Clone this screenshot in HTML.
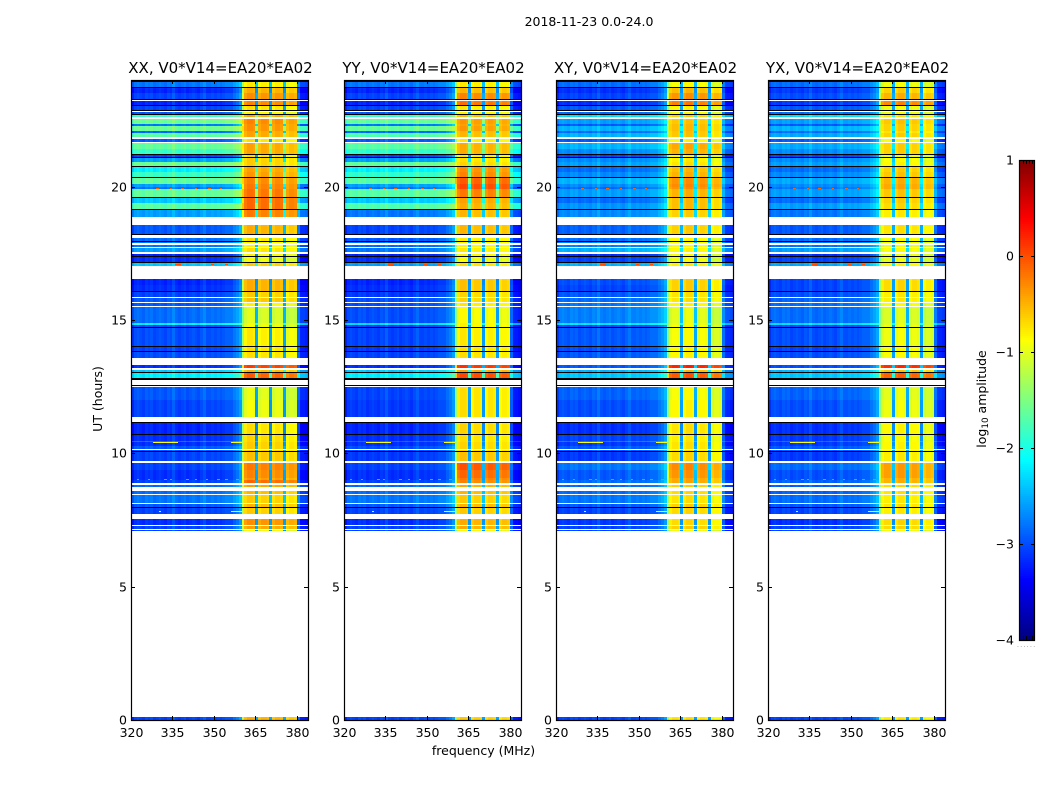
<!DOCTYPE html>
<html>
<head>
<meta charset="utf-8">
<title>2018-11-23 0.0-24.0</title>
<style>
html,body{margin:0;padding:0;background:#fff;}
svg{display:block;}
text{font-family:"DejaVu Sans","Liberation Sans",sans-serif;fill:#000;}
</style>
</head>
<body>
<svg id="figure" xmlns="http://www.w3.org/2000/svg" width="1050" height="800" viewBox="0 0 1050 800">
  <text x="589" y="26" font-size="12.5" text-anchor="middle">2018-11-23 0.0-24.0</text>
  <text x="483.5" y="755" font-size="12.5" text-anchor="middle">frequency (MHz)</text>
  <text x="0" y="0" font-size="12.5" text-anchor="middle" transform="translate(102,399) rotate(-90)">UT (hours)</text>
  <text x="0" y="0" font-size="12.5" text-anchor="middle" transform="translate(986,399) rotate(-90)">log<tspan font-size="8.8" dy="2">10</tspan><tspan dy="-2"> amplitude</tspan></text>
  <g id="panels"></g>
  <g id="colorbar"></g>
</svg>
<script>
/* ---------- data ---------- */
const panelTitles = ["XX, V0*V14=EA20*EA02","YY, V0*V14=EA20*EA02","XY, V0*V14=EA20*EA02","YX, V0*V14=EA20*EA02"];
const xTicks = [320,335,350,365,380];
const yTicks = [0,5,10,15,20];
const colorbarTicks = [1,0,-1,-2,-3,-4];

/* time rows that hold data, UT hours (top and bottom of each row) */
const rowStart = [
23.91,23.70,23.51,23.23,23.03,22.80,22.71,22.54,22.35,22.28,
22.09,22.01,21.79,21.64,21.41,21.19,21.09,20.91,20.72,20.55,
20.33,20.10,19.99,19.91,19.58,19.39,19.13,18.56,18.08,17.93,
17.83,17.71,17.48,17.36,17.16,16.54,16.31,16.05,15.81,15.64,
15.47,14.89,14.81,14.70,13.97,13.80,13.31,13.13,13.01,12.81,
12.49,12.00,11.12,10.71,10.46,10.41,10.26,10.14,10.05,9.64,
9.38,9.08,9.00,8.81,8.58,8.44,8.10,7.95,7.54,7.29,7.11,0.11];
const rowEnd = [
23.74,23.51,23.29,23.06,22.86,22.74,22.63,22.35,22.28,22.09,
22.01,21.86,21.68,21.41,21.23,21.13,20.94,20.76,20.55,20.36,
20.10,19.99,19.91,19.61,19.39,19.18,18.88,18.23,17.96,17.87,
17.75,17.55,17.40,17.19,17.04,16.31,16.09,15.88,15.69,15.53,
14.89,14.81,14.74,14.01,13.84,13.58,13.20,13.05,12.84,12.75,
12.00,11.37,10.74,10.46,10.41,10.29,10.18,10.05,9.71,9.38,
9.08,9.00,8.87,8.74,8.48,8.14,7.99,7.73,7.33,7.15,7.07,0];

/* log10 amplitude outside the band, per row */
const xxBackground = [
-2.8,-3.2,-3.05,-3.2,-3.05,-2.95,-1.85,-1.6,-2.8,-1.6,
-2.85,-1.7,-2.95,-1.65,-1.85,-3.05,-2.6,-1.6,-2.2,-1.85,
-1.65,-2.6,-2.8,-1.65,-2.4,-1.7,-2.6,-2.95,-2.85,-2.8,
-2.8,-2.6,-3.2,-3.15,-2.4,-3.2,-3.15,-3.05,-2.95,-2.95,
-2.85,-2.2,-3.05,-3.0,-3.05,-3.0,-3.15,-2.4,-2.2,-3.05,
-2.95,-3.05,-3.2,-3.15,-2.8,-3.15,-2.95,-2.95,-3.05,-3.05,
-3.15,-3.15,-3.05,-2.85,-2.85,-2.8,-2.95,-3.05,-3.15,-3.05,-3.05,-3.05];
const yyBackground = [
-2.8,-3.2,-3.05,-3.2,-3.05,-2.95,-1.85,-1.65,-2.8,-1.65,
-2.85,-1.75,-2.95,-1.7,-1.9,-3.05,-2.6,-1.65,-2.2,-1.9,
-1.7,-2.6,-2.8,-1.7,-2.4,-1.75,-2.8,-3.05,-2.95,-2.85,
-2.85,-2.8,-3.2,-3.15,-2.6,-3.2,-3.15,-3.1,-3.0,-3.0,
-3.0,-2.3,-3.1,-3.05,-3.1,-3.05,-3.15,-2.4,-2.2,-3.05,
-3.05,-3.1,-3.2,-3.15,-2.85,-3.15,-3.0,-3.0,-3.1,-3.05,
-3.15,-3.15,-3.05,-2.85,-2.85,-2.8,-2.95,-3.05,-3.15,-3.05,-3.05,-3.05];
const xyBackground = [
-2.85,-3.15,-3.05,-3.15,-2.95,-2.85,-2.3,-2.6,-2.95,-2.5,
-2.85,-2.5,-2.95,-2.5,-2.7,-3.05,-2.7,-2.6,-2.85,-2.7,
-2.5,-2.7,-2.85,-2.6,-2.85,-2.65,-2.7,-2.9,-2.85,-2.75,
-2.75,-2.5,-3.15,-3.05,-2.5,-3.0,-3.05,-2.95,-2.85,-2.8,
-2.75,-2.25,-3.05,-2.95,-3.0,-2.95,-2.95,-2.5,-2.4,-2.95,
-2.9,-3.0,-3.15,-3.05,-2.75,-3.1,-2.95,-2.95,-3.1,-2.8,
-2.95,-2.95,-2.85,-2.85,-2.85,-2.8,-2.95,-3.05,-3.1,-3.05,-3.05,-3.05];
const yxBackground = [
-2.85,-3.1,-3.0,-3.1,-2.95,-2.85,-2.3,-2.6,-2.95,-2.5,
-2.85,-2.55,-2.95,-2.55,-2.7,-3.05,-2.7,-2.6,-2.85,-2.7,
-2.55,-2.7,-2.8,-2.6,-2.85,-2.6,-2.8,-2.95,-2.85,-2.8,
-2.8,-2.6,-3.15,-3.05,-2.55,-3.05,-3.05,-3.0,-2.9,-2.85,
-2.85,-2.3,-3.05,-3.0,-3.05,-3.0,-3.0,-2.5,-2.4,-2.95,
-2.9,-3.0,-3.15,-3.1,-2.8,-3.1,-2.95,-2.95,-3.1,-2.85,
-3.0,-3.0,-2.9,-2.9,-2.9,-2.85,-2.95,-3.05,-3.15,-3.05,-3.05,-3.05];

/* log10 amplitude inside the 361-380 MHz band, per row */
const xxBand = [
-.85,-.55,-.4,-.35,-.8,-.9,-.5,-.35,-.4,-.4,
-.5,-.5,-.8,-.5,-.5,-.8,-.7,-.7,-.5,-.45,
-.35,-.3,-.3,-.25,-.2,-.2,-.3,-.55,-.8,-.9,
-.9,-.8,-.9,-1,-.7,-.55,-.55,-.7,-.65,-.9,
-1.1,-1,-1,-.85,-.8,-.8,0,-.6,-.15,-.6,
-1.05,-1,-.8,-.75,-.75,-.7,-.7,-.7,-.65,-.3,
-.35,-.45,-.2,-.5,-.6,-.7,-.6,-.7,-.4,-.5,-1,-.55];
const yyBand = [
-.85,-.6,-.35,-.25,-.85,-.9,-.6,-.45,-.5,-.45,
-.6,-.6,-.85,-.55,-.55,-.85,-.8,-.75,-.4,-.35,
-.15,-.05,-.05,-.3,-.5,-.55,-.6,-.6,-.85,-.9,
-.9,-.85,-.9,-1,-.8,-.65,-.65,-.75,-.75,-.85,
-.95,-.9,-.9,-.85,-.8,-.8,.05,-.5,-.05,-.55,
-.8,-.8,-.75,-.8,-.8,-.75,-.75,-.75,-.65,-.1,
-.2,-.3,-.35,-.55,-.6,-.7,-.6,-.7,-.55,-.55,-1,-.7];
const xyBand = [
-.95,-.6,-.4,-.3,-.9,-.95,-.7,-.65,-.6,-.6,
-.65,-.65,-.9,-.5,-.55,-.9,-.85,-.8,-.6,-.55,
-.4,-.35,-.4,-.55,-.6,-.6,-.7,-.7,-.9,-.95,
-.95,-.9,-.95,-1,-.85,-.7,-.7,-.8,-.8,-.9,
-1.05,-1,-.95,-.95,-.9,-.9,.15,-.6,-.1,-.7,
-.95,-.9,-.8,-.85,-.85,-.8,-.8,-.8,-.75,-.35,
-.4,-.5,-.5,-.7,-.75,-.8,-.7,-.75,-.75,-.7,-1,-.8];
const yxBand = [
-1,-.7,-.55,-.35,-1,-1,-.8,-.65,-.7,-.7,
-.8,-.7,-.95,-.7,-.7,-1,-.95,-.9,-.7,-.65,
-.55,-.5,-.5,-.65,-.7,-.75,-.85,-.8,-.95,-1,
-1,-.95,-1,-1.05,-.9,-.75,-.75,-.85,-.85,-.95,
-1.1,-1.05,-1,-1,-.95,-.95,.1,-.65,-.15,-.75,
-1.05,-1,-.9,-.95,-.95,-.9,-.9,-.9,-.85,-.45,
-.45,-.55,-.55,-.75,-.8,-.85,-.8,-.85,-.75,-.75,-1,-.85];

/* per-panel offset of each of the four sub-bands */
const xxSubBands = [0.05,0,0,-0.1];
const yySubBands = [0.05,0,0,-0.05];
const xySubBands = [0,0.05,0,-0.15];
const yxSubBands = [0,0.05,0,-0.1];

/* per-channel (1 MHz, 320-383) share of band signal, and amplitude offset */
const channelBandShare = [
0,0,0,0,0,0,0,0,0,0, 0,0,0,0,0,0,0,0,0,0,
0,0,0,0,0,0,0,0,0,0, 0,0,0,0,0,0,0,.03,.05,.1,
.75,1,1,1,1,.2,1,1,1,1, .2,1,1,1,1,.2,1,1,1,1,
.12,0,0,0];
const channelOffset = [
-.15,0,.05,0,-.05,.05,0,.05,-.05,0,
.05,0,-.05,.05,0,.15,0,-.05,0,.05,
-.05,0,.05,0,-.05,.05,.15,0,0,.05,
0,.05,0,.05,.1,.1,.1,.15,.2,.25,
0,-.05,.05,.05,0,0,-.05,.05,.05,0,
0,-.05,.05,.05,0,0,-.05,.05,.05,0,
-.1,-.2,-.2,-.25];

/* dropout rows drawn black, UT hours */
const dropoutHours = [
23.96,23.74,23.29,23.06,22.86,22.74,21.23,21.13,20.76,20.36,19.61,19.18,
18.23,17.96,17.40,17.19,16.09,14.74,14.01,13.84,13.05,12.84,12.78,12.56,
11.16,10.74,10.09,7.99];

/* narrow interference spikes */
const spikeHours = [19.95,10.44,9.04,13.05,17.1,7.85];
const spikeFreqs = [
[329,334,338,343,348,352],
[328,329,330,331,332,333,334,335,336,356,357,358,359],
[322,326,332,334,340,343,347,351,354,358],
[321,325,330,335,340,349],
[336,337,349,354],
[330,356,357,358,359]];
const spikeLevels = [-0.1,-0.9,-0.2,-0.4,0,-0.9];

/* ---------- layout ---------- */
const NS = "http://www.w3.org/2000/svg";
const panelLeft = [131,344,556,768];
const panelWidth = 177, plotTop = 80, plotBottom = 720;
const freqMin = 320, freqMax = 384, utMax = 24;
const colorMin = -4, colorMax = 1;
const barLeft = 1019, barRight = 1035, barTop = 160, barBottom = 640;

const panelBackgrounds = [xxBackground,yyBackground,xyBackground,yxBackground];
const panelBands = [xxBand,yyBand,xyBand,yxBand];
const panelSubBands = [xxSubBands,yySubBands,xySubBands,yxSubBands];
const panelKeys = ["xx","yy","xy","yx"];

function yScale(ut){ return plotBottom - ut*(plotBottom-plotTop)/utMax; }
function xScale(left,f){ return left + (f-freqMin)*panelWidth/(freqMax-freqMin); }
function clip(v){ return Math.max(0,Math.min(1,v)); }
function jet(v){
  const t = clip((v-colorMin)/(colorMax-colorMin));
  const r = clip(Math.min(4*t-1.5,-4*t+4.5));
  const g = clip(Math.min(4*t-0.5,-4*t+3.5));
  const b = clip(Math.min(4*t+0.5,-4*t+2.5));
  return "rgb("+Math.round(r*255)+","+Math.round(g*255)+","+Math.round(b*255)+")";
}
function make(tag,parent,attrs){
  const el = document.createElementNS(NS,tag);
  for(const k in attrs){ el.setAttribute(k,attrs[k]); }
  parent.appendChild(el);
  return el;
}
function tickLine(parent,x1,y1,x2,y2,name){
  const el = make("line",parent,{x1:x1,y1:y1,x2:x2,y2:y2,stroke:"#000","stroke-width":1});
  
  
}
function tickText(parent,x,y,anchor,label,name){
  const el = make("text",parent,{x:x,y:y,"text-anchor":anchor,"font-size":12.5});
  el.textContent = label;
  
  
}

/* ---------- panels ---------- */
const panelsRoot = document.getElementById("panels");
panelTitles.forEach(function(title,p){
  const left = panelLeft[p], key = panelKeys[p];
  const g = make("g",panelsRoot,{});
  
  

  const heat = make("g",g,{"shape-rendering":"crispEdges"});
  
  

  rowStart.forEach(function(top,r){
    const y0 = Math.round(yScale(top)), y1 = Math.max(y0+1,Math.round(yScale(rowEnd[r])));
    channelBandShare.forEach(function(share,c){
      const f = freqMin+c;
      const sub = (f>=361&&f<381) ? panelSubBands[p][Math.floor((f-361)/5)] : 0;
      const level = (1-share)*panelBackgrounds[p][r] + share*(panelBands[p][r]+sub) + channelOffset[c];
      const x0 = Math.round(xScale(left,f)), x1 = Math.round(xScale(left,f+1));
      const cell = make("rect",heat,{x:x0,y:y0,width:x1-x0,height:y1-y0,fill:jet(level)});
      
      
    });
  });

  spikeHours.forEach(function(ut,s){
    spikeFreqs[s].forEach(function(f){
      const x0 = Math.round(xScale(left,f)), x1 = Math.round(xScale(left,f+1));
      const spike = make("rect",heat,{x:x0,y:Math.round(yScale(ut)),width:x1-x0,height:1,fill:jet(spikeLevels[s])});
      
      
    });
  });

  dropoutHours.forEach(function(ut){
    const band = make("rect",heat,{x:left,y:Math.round(yScale(ut)),width:panelWidth,height:1,fill:"#000"});
    
    
  });

  const frame = make("rect",g,{x:left+0.5,y:plotTop+0.5,width:panelWidth,height:plotBottom-plotTop,fill:"none",stroke:"#000","stroke-width":1.2});
  
  

  xTicks.forEach(function(f){
    const x = Math.round(xScale(left,f))+0.5;
    tickLine(g,x,plotBottom,x,plotBottom-4,'x-tick');
    tickLine(g,x,plotTop,x,plotTop+4,'x-tick-top');
    tickText(g,x,plotBottom+17,"middle",String(f),'x-tick-label');
  });
  yTicks.forEach(function(ut){
    const y = Math.round(yScale(ut))+0.5;
    tickLine(g,left,y,left+4,y,'y-tick');
    tickLine(g,left+panelWidth,y,left+panelWidth-4,y,'y-tick-right');
    tickText(g,left-4,y+4,"end",String(ut),'y-tick-label');
  });

  const t = make("text",g,{x:left+panelWidth/2+1,y:73,"text-anchor":"middle","font-size":15});
  t.textContent = title;
  
  
});

/* ---------- colorbar ---------- */
const bar = document.getElementById("colorbar");
function barY(v){ return barBottom - (v-colorMin)*(barBottom-barTop)/(colorMax-colorMin); }
const barSlices = make("g",bar,{"shape-rendering":"crispEdges"});


for(let py=barTop; py<barBottom; py+=2){
  const level = colorMin + (barBottom-py-1)*(colorMax-colorMin)/(barBottom-barTop);
  const slice = make("rect",barSlices,{x:barLeft,y:py,width:barRight-barLeft,height:2,fill:jet(level)});
  
  
}
const barFrame = make("rect",bar,{x:barLeft+0.5,y:barTop+0.5,width:barRight-barLeft-1,height:barBottom-barTop,fill:"none",stroke:"#000","stroke-width":1.2});


colorbarTicks.forEach(function(v){
  const y = Math.round(barY(v))+0.5;
  tickLine(bar,barLeft,y,barLeft+4,y,'colorbar-tick');
  tickLine(bar,barRight,y,barRight-4,y,'colorbar-tick-right');
  tickText(bar,barLeft-5,y+4,"end",(v<0?"\u2212"+Math.abs(v):String(v)),'colorbar-tick-label');
});
[1023,1026,1029,1032].forEach(function(x){
  tickLine(bar,x+0.5,barTop,x+0.5,barTop+4,'colorbar-minor-tick-top');
  tickLine(bar,x+0.5,barBottom,x+0.5,barBottom-4,'colorbar-minor-tick-bottom');
});
const dots = make("text",bar,{x:1017,y:647,"font-size":6,"letter-spacing":1.35,style:"fill:#777"});
dots.textContent = "......";


</script>
</body>
</html>
